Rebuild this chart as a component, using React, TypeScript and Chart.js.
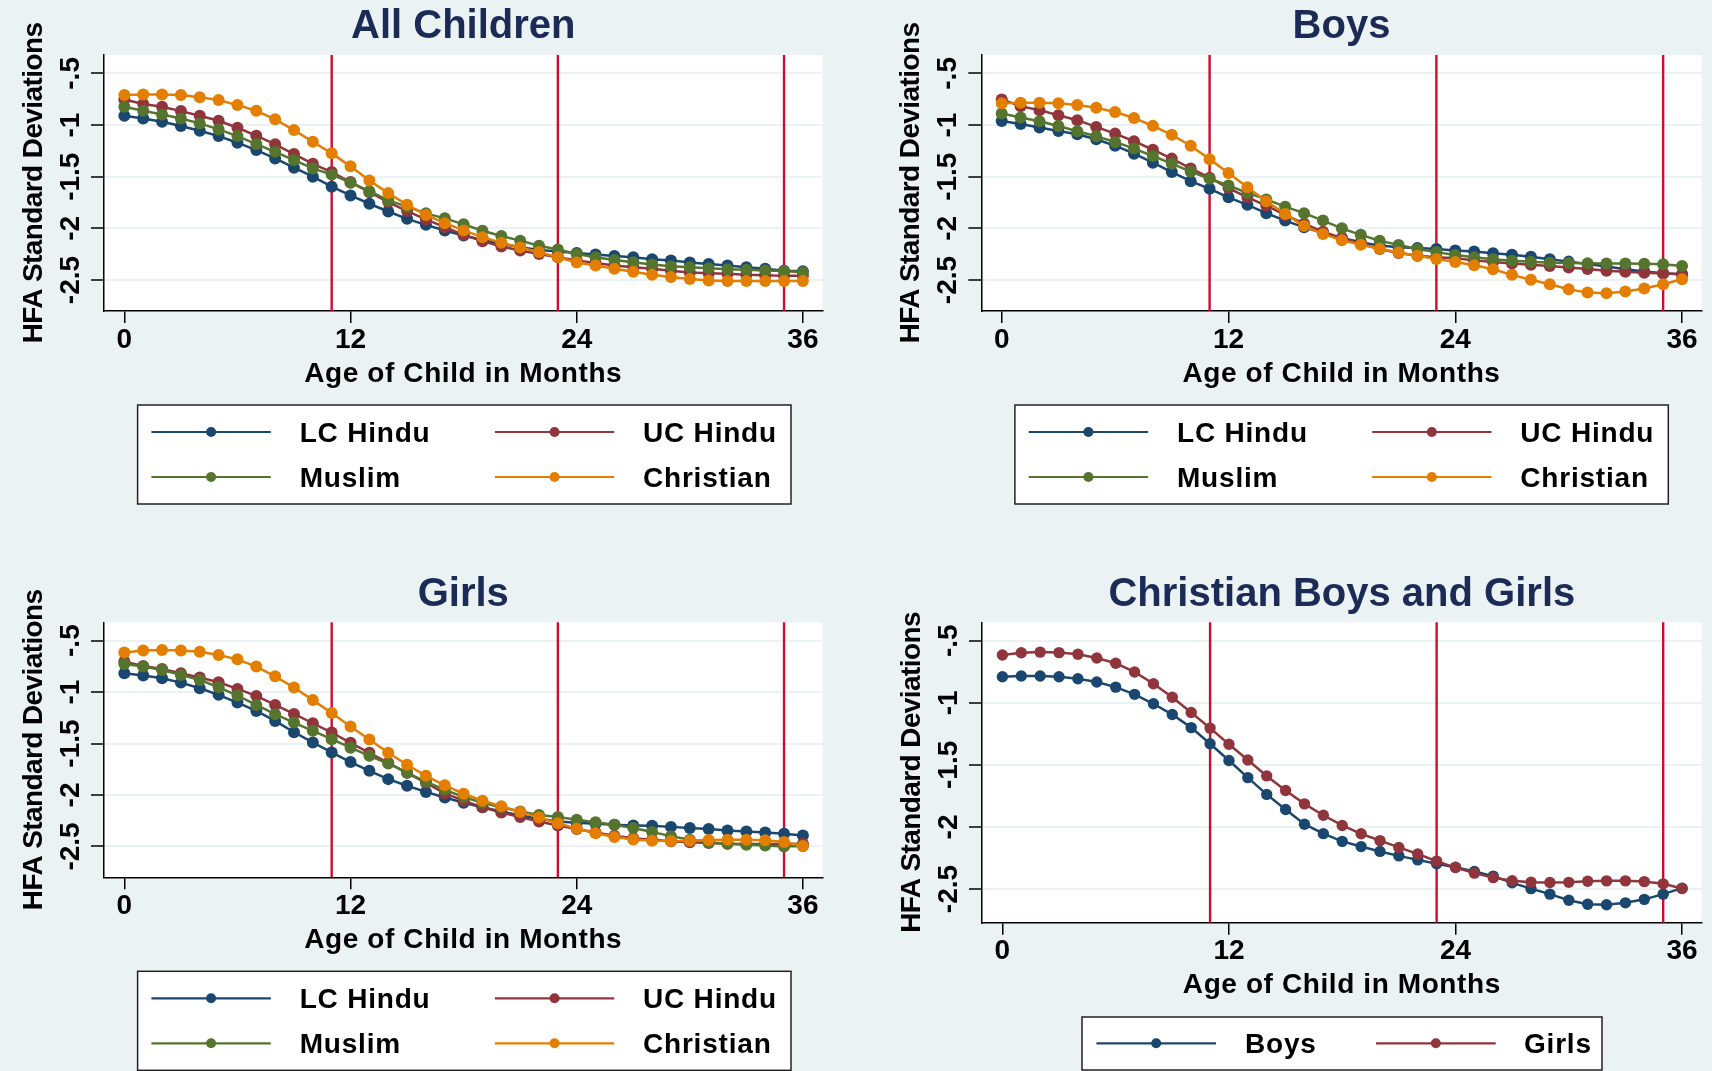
import React, { useEffect, useRef } from "react";
import { Chart, registerables } from "chart.js";

Chart.register(...registerables);

// ---------------- data ----------------
const months = [0, 1, 2, 3, 4, 5, 6, 7, 8, 9, 10, 11, 12, 13, 14, 15, 16, 17, 18, 19, 20, 21, 22, 23, 24, 25, 26, 27, 28, 29, 30, 31, 32, 33, 34, 35, 36];
const xTickValues = [0, 12, 24, 36];
const xTickLabels = ["0", "12", "24", "36"];
const yTickValues = [-2.5, -2, -1.5, -1, -0.5];
const yTickLabels = ["-2.5", "-2", "-1.5", "-1", "-.5"];
const refLines = [11, 23, 35];

// All Children
const allLC = [-0.91, -0.936, -0.968, -1.01, -1.055, -1.107, -1.171, -1.242, -1.323, -1.413, -1.5, -1.597, -1.681, -1.762, -1.837, -1.908, -1.966, -2.021, -2.07, -2.112, -2.15, -2.183, -2.209, -2.225, -2.238, -2.254, -2.267, -2.28, -2.3, -2.31, -2.33, -2.345, -2.36, -2.377, -2.39, -2.41, -2.416];
const allUC = [-0.752, -0.797, -0.823, -0.865, -0.91, -0.958, -1.026, -1.103, -1.187, -1.281, -1.375, -1.455, -1.552, -1.65, -1.746, -1.833, -1.914, -1.989, -2.063, -2.124, -2.176, -2.215, -2.248, -2.28, -2.31, -2.335, -2.36, -2.377, -2.39, -2.41, -2.427, -2.435, -2.44, -2.45, -2.455, -2.46, -2.46];
const allMuslim = [-0.823, -0.862, -0.897, -0.936, -0.984, -1.042, -1.107, -1.184, -1.259, -1.339, -1.42, -1.48, -1.558, -1.64, -1.73, -1.79, -1.855, -1.903, -1.961, -2.023, -2.074, -2.119, -2.168, -2.204, -2.248, -2.28, -2.306, -2.327, -2.35, -2.366, -2.376, -2.385, -2.395, -2.401, -2.408, -2.414, -2.424];
const allChristian = [-0.71, -0.704, -0.704, -0.71, -0.732, -0.758, -0.807, -0.862, -0.945, -1.049, -1.162, -1.274, -1.4, -1.536, -1.659, -1.772, -1.87, -1.95, -2.02, -2.085, -2.14, -2.185, -2.23, -2.28, -2.33, -2.36, -2.39, -2.42, -2.45, -2.47, -2.49, -2.505, -2.51, -2.51, -2.51, -2.51, -2.51];

// Boys
const boysLC = [-0.96, -0.99, -1.024, -1.057, -1.09, -1.137, -1.2, -1.277, -1.364, -1.455, -1.543, -1.617, -1.7, -1.772, -1.853, -1.925, -1.99, -2.045, -2.094, -2.134, -2.167, -2.183, -2.19, -2.2, -2.215, -2.225, -2.24, -2.256, -2.274, -2.298, -2.322, -2.345, -2.37, -2.395, -2.418, -2.435, -2.445];
const boysUC = [-0.752, -0.817, -0.856, -0.905, -0.953, -1.018, -1.083, -1.157, -1.238, -1.325, -1.42, -1.51, -1.61, -1.7, -1.78, -1.87, -1.955, -2.032, -2.094, -2.15, -2.2, -2.238, -2.265, -2.28, -2.29, -2.31, -2.325, -2.34, -2.352, -2.365, -2.378, -2.394, -2.41, -2.42, -2.43, -2.437, -2.445];
const boysMuslim = [-0.888, -0.927, -0.963, -1.01, -1.06, -1.108, -1.163, -1.228, -1.3, -1.374, -1.45, -1.52, -1.585, -1.657, -1.72, -1.79, -1.853, -1.925, -2.0, -2.063, -2.12, -2.16, -2.2, -2.23, -2.258, -2.28, -2.3, -2.313, -2.323, -2.332, -2.335, -2.339, -2.34, -2.341, -2.342, -2.347, -2.365];
const christianBoys = [-0.79, -0.785, -0.785, -0.79, -0.806, -0.833, -0.874, -0.932, -1.008, -1.095, -1.2, -1.33, -1.465, -1.603, -1.738, -1.86, -1.978, -2.054, -2.116, -2.158, -2.197, -2.233, -2.265, -2.296, -2.325, -2.358, -2.396, -2.45, -2.497, -2.541, -2.59, -2.622, -2.627, -2.611, -2.583, -2.541, -2.493];

// Girls
const girlsLC = [-0.817, -0.84, -0.866, -0.908, -0.963, -1.027, -1.102, -1.183, -1.28, -1.39, -1.49, -1.587, -1.68, -1.765, -1.846, -1.91, -1.97, -2.024, -2.075, -2.12, -2.16, -2.2, -2.23, -2.257, -2.27, -2.28, -2.29, -2.296, -2.3, -2.31, -2.32, -2.33, -2.345, -2.354, -2.364, -2.377, -2.393];
const girlsUC = [-0.704, -0.746, -0.775, -0.817, -0.859, -0.905, -0.969, -1.037, -1.125, -1.212, -1.303, -1.393, -1.493, -1.59, -1.687, -1.785, -1.882, -1.985, -2.055, -2.12, -2.17, -2.215, -2.257, -2.296, -2.33, -2.364, -2.396, -2.42, -2.435, -2.45, -2.46, -2.467, -2.474, -2.477, -2.477, -2.477, -2.474];
const girlsMuslim = [-0.727, -0.752, -0.785, -0.833, -0.882, -0.953, -1.034, -1.125, -1.215, -1.296, -1.377, -1.458, -1.54, -1.62, -1.694, -1.785, -1.87, -1.95, -2.02, -2.075, -2.12, -2.16, -2.194, -2.215, -2.24, -2.265, -2.29, -2.32, -2.36, -2.4, -2.435, -2.46, -2.474, -2.484, -2.49, -2.5, -2.495];
const christianGirls = [-0.615, -0.597, -0.592, -0.596, -0.609, -0.64, -0.682, -0.752, -0.847, -0.955, -1.078, -1.204, -1.334, -1.461, -1.589, -1.706, -1.814, -1.906, -1.988, -2.055, -2.11, -2.165, -2.218, -2.275, -2.327, -2.372, -2.408, -2.433, -2.445, -2.447, -2.446, -2.437, -2.434, -2.434, -2.44, -2.458, -2.495];

// ---------------- styles ----------------
const FONT = "'Liberation Sans', Arial, Helvetica, sans-serif";
const BG = "#EAF2F3";
const TITLE_COLOR = "#1c2b56";
const REF_COLOR = "#c8102e";
const NAVY = "#1a476f";
const MAROON = "#90353b";
const FOREST = "#55752f";
const ORANGE = "#e37e00";
const X_MIN = -1.08;
const X_MAX = 37.04;
const X_AXIS_H = 60;

type Series = { label: string; values: number[]; color: string; order: number };
type LegendSpec = {
  box: [number, number, number, number];
  cols: { x0: number; x1: number; tx: number }[];
  rows: number[];
};
type PanelSpec = {
  key: string;
  title: string;
  left: number;
  top: number;
  width: number;
  height: number;
  area: { left: number; top: number; right: number; bottom: number };
  yMin: number;
  yMax: number;
  pointRadius: number;
  series: Series[];
  legend: LegendSpec;
};

const legend4: LegendSpec = {
  box: [33.6, 94, 653.4, 99],
  cols: [
    { x0: 47.4, x1: 166.8, tx: 195.7 },
    { x0: 390.9, x1: 510.2, tx: 539 },
  ],
  rows: [121, 166],
};
const legend2: LegendSpec = {
  box: [100, 94.3, 520, 53],
  cols: [
    { x0: 114.4, x1: 234, tx: 263 },
    { x0: 394, x1: 513.7, tx: 542 },
  ],
  rows: [120.6],
};

const PANELS: PanelSpec[] = [
  {
    key: "all",
    title: "All Children",
    left: 0, top: 0, width: 856, height: 560,
    area: { left: 104, top: 55, right: 822.5, bottom: 311 },
    yMin: -2.8, yMax: -0.322, pointRadius: 6,
    series: [
      { label: "LC Hindu", values: allLC, color: NAVY, order: 4 },
      { label: "UC Hindu", values: allUC, color: MAROON, order: 3 },
      { label: "Muslim", values: allMuslim, color: FOREST, order: 2 },
      { label: "Christian", values: allChristian, color: ORANGE, order: 1 },
    ],
    legend: legend4,
  },
  {
    key: "boys",
    title: "Boys",
    left: 856, top: 0, width: 856, height: 560,
    area: { left: 125.3, top: 55, right: 845.7, bottom: 311 },
    yMin: -2.8, yMax: -0.322, pointRadius: 6,
    series: [
      { label: "LC Hindu", values: boysLC, color: NAVY, order: 4 },
      { label: "UC Hindu", values: boysUC, color: MAROON, order: 3 },
      { label: "Muslim", values: boysMuslim, color: FOREST, order: 2 },
      { label: "Christian", values: christianBoys, color: ORANGE, order: 1 },
    ],
    legend: legend4,
  },
  {
    key: "girls",
    title: "Girls",
    left: 0, top: 560, width: 856, height: 511,
    area: { left: 104, top: 62.3, right: 822.5, bottom: 317.3 },
    yMin: -2.8, yMax: -0.322, pointRadius: 6,
    series: [
      { label: "LC Hindu", values: girlsLC, color: NAVY, order: 4 },
      { label: "UC Hindu", values: girlsUC, color: MAROON, order: 3 },
      { label: "Muslim", values: girlsMuslim, color: FOREST, order: 2 },
      { label: "Christian", values: christianGirls, color: ORANGE, order: 1 },
    ],
    legend: legend4,
  },
  {
    key: "christian",
    title: "Christian Boys and Girls",
    left: 856, top: 560, width: 856, height: 511,
    area: { left: 126, top: 62.3, right: 845.7, bottom: 362.7 },
    yMin: -2.771, yMax: -0.352, pointRadius: 5.7,
    series: [
      { label: "Boys", values: christianBoys, color: NAVY, order: 2 },
      { label: "Girls", values: christianGirls, color: MAROON, order: 1 },
    ],
    legend: legend2,
  },
];

function makeDecor(spec: PanelSpec) {
  return {
    id: "stataDecor",
    beforeDraw(chart: any) {
      const { ctx, chartArea: a } = chart;
      ctx.save();
      ctx.fillStyle = BG;
      ctx.fillRect(0, 0, chart.width, chart.height);
      ctx.fillStyle = "#ffffff";
      ctx.fillRect(a.left, a.top, a.right - a.left, a.bottom - a.top);
      ctx.restore();
    },
    beforeDatasetsDraw(chart: any) {
      const { ctx, chartArea: a } = chart;
      const xs = chart.scales.x;
      ctx.save();
      ctx.strokeStyle = REF_COLOR;
      ctx.lineWidth = 2.4;
      refLines.forEach((v) => {
        const px = xs.getPixelForValue(v);
        ctx.beginPath();
        ctx.moveTo(px, a.top);
        ctx.lineTo(px, a.bottom);
        ctx.stroke();
      });
      ctx.restore();
    },
    afterDraw(chart: any) {
      const { ctx, chartArea: a } = chart;
      const cx = (a.left + a.right) / 2;
      const cy = (a.top + a.bottom) / 2;
      ctx.save();
      // title
      ctx.font = `bold 40px ${FONT}`;
      (ctx as any).letterSpacing = "0px";
      ctx.fillStyle = TITLE_COLOR;
      ctx.textAlign = "center";
      ctx.textBaseline = "alphabetic";
      ctx.fillText(spec.title, cx, a.top - 16.7);
      // x title
      ctx.font = `bold 28px ${FONT}`;
      (ctx as any).letterSpacing = "0.6px";
      ctx.fillStyle = "#000000";
      ctx.fillText("Age of Child in Months", cx, a.bottom + 70.7);
      // y title
      ctx.save();
      (ctx as any).letterSpacing = "-0.6px";
      ctx.translate(a.left - 62.3, cy);
      ctx.rotate(-Math.PI / 2);
      ctx.fillText("HFA Standard Deviations", 0, 0);
      ctx.restore();
      // legend
      const lg = spec.legend;
      const bx = a.left + lg.box[0];
      const by = a.bottom + lg.box[1];
      ctx.fillStyle = "#ffffff";
      ctx.fillRect(bx, by, lg.box[2], lg.box[3]);
      ctx.strokeStyle = "#222222";
      ctx.lineWidth = 1.5;
      ctx.strokeRect(bx, by, lg.box[2], lg.box[3]);
      ctx.font = `bold 28px ${FONT}`;
      (ctx as any).letterSpacing = "0.8px";
      ctx.textAlign = "left";
      chart.data.datasets.forEach((ds: any, i: number) => {
        const col = lg.cols[i % lg.cols.length];
        const row = lg.rows[Math.floor(i / lg.cols.length)];
        const y = a.bottom + row;
        const x0 = a.left + col.x0;
        const x1 = a.left + col.x1;
        ctx.strokeStyle = ds.borderColor;
        ctx.lineWidth = 2.2;
        ctx.beginPath();
        ctx.moveTo(x0, y);
        ctx.lineTo(x1, y);
        ctx.stroke();
        ctx.fillStyle = ds.borderColor;
        ctx.beginPath();
        ctx.arc((x0 + x1) / 2, y, 5, 0, Math.PI * 2);
        ctx.fill();
        ctx.fillStyle = "#000000";
        ctx.fillText(ds.label, a.left + col.tx, y + 10);
      });
      ctx.restore();
    },
  };
}

function buildConfig(spec: PanelSpec) {
  const L = spec.area.left;
  return {
    type: "line",
    data: {
      datasets: spec.series.map((s) => ({
        label: s.label,
        data: months.map((m, i) => ({ x: m, y: s.values[i] })),
        borderColor: s.color,
        backgroundColor: s.color,
        pointBackgroundColor: s.color,
        pointBorderColor: s.color,
        pointBorderWidth: 0,
        pointRadius: spec.pointRadius,
        pointHoverRadius: spec.pointRadius,
        borderWidth: 2.5,
        tension: 0,
        fill: false,
        order: s.order,
      })),
    },
    options: {
      animation: false,
      responsive: false,
      maintainAspectRatio: false,
      devicePixelRatio: 1,
      events: [],
      layout: {
        padding: {
          left: 0,
          top: spec.area.top,
          right: spec.width - spec.area.right,
          bottom: spec.height - spec.area.bottom - X_AXIS_H,
        },
      },
      plugins: {
        legend: { display: false },
        title: { display: false },
        tooltip: { enabled: false },
      },
      scales: {
        x: {
          type: "linear",
          min: X_MIN,
          max: X_MAX,
          offset: false,
          afterBuildTicks: (scale: any) => {
            scale.ticks = xTickValues.map((v) => ({ value: v }));
          },
          afterFit: (scale: any) => {
            scale.height = X_AXIS_H;
          },
          ticks: {
            autoSkip: false,
            maxRotation: 0,
            minRotation: 0,
            padding: 0,
            color: "#000000",
            font: { family: FONT, size: 28, weight: "bold" },
            callback: (v: any) => xTickLabels[xTickValues.indexOf(Number(v))] ?? "",
          },
          grid: {
            drawOnChartArea: false,
            drawTicks: true,
            tickLength: 12,
            tickColor: "#000000",
            tickWidth: 1.5,
            lineWidth: 1.5,
            color: "#000000",
          },
          border: { display: true, color: "#000000", width: 1.5 },
        },
        y: {
          type: "linear",
          min: spec.yMin,
          max: spec.yMax,
          afterBuildTicks: (scale: any) => {
            scale.ticks = yTickValues.map((v) => ({ value: v }));
          },
          afterFit: (scale: any) => {
            scale.width = L;
          },
          ticks: {
            autoSkip: false,
            minRotation: 90,
            maxRotation: 90,
            crossAlign: "center",
            padding: -4,
            color: "#000000",
            font: { family: FONT, size: 28, weight: "bold" },
            callback: (v: any) => yTickLabels[yTickValues.indexOf(Number(v))] ?? "",
          },
          grid: {
            drawOnChartArea: true,
            drawTicks: true,
            tickLength: 13,
            tickColor: "#000000",
            tickWidth: 1.5,
            lineWidth: 2,
            color: BG,
          },
          border: { display: true, color: "#000000", width: 1.5 },
        },
      },
    },
    plugins: [makeDecor(spec)],
  };
}

function Panel({ spec }: { spec: PanelSpec }) {
  const ref = useRef<HTMLCanvasElement | null>(null);
  useEffect(() => {
    const canvas = ref.current;
    if (!canvas) return;
    const chart = new Chart(canvas, buildConfig(spec) as any);
    return () => {
      chart.destroy();
    };
  }, [spec]);
  return (
    <canvas
      ref={ref}
      width={spec.width}
      height={spec.height}
      style={{
        position: "absolute",
        left: spec.left,
        top: spec.top,
        width: spec.width,
        height: spec.height,
        display: "block",
      }}
    />
  );
}

export default function App() {
  return (
    <div
      style={{
        position: "fixed",
        left: 0,
        top: 0,
        width: 1712,
        height: 1071,
        background: BG,
        overflow: "hidden",
      }}
    >
      {PANELS.map((p) => (
        <Panel key={p.key} spec={p} />
      ))}
    </div>
  );
}
